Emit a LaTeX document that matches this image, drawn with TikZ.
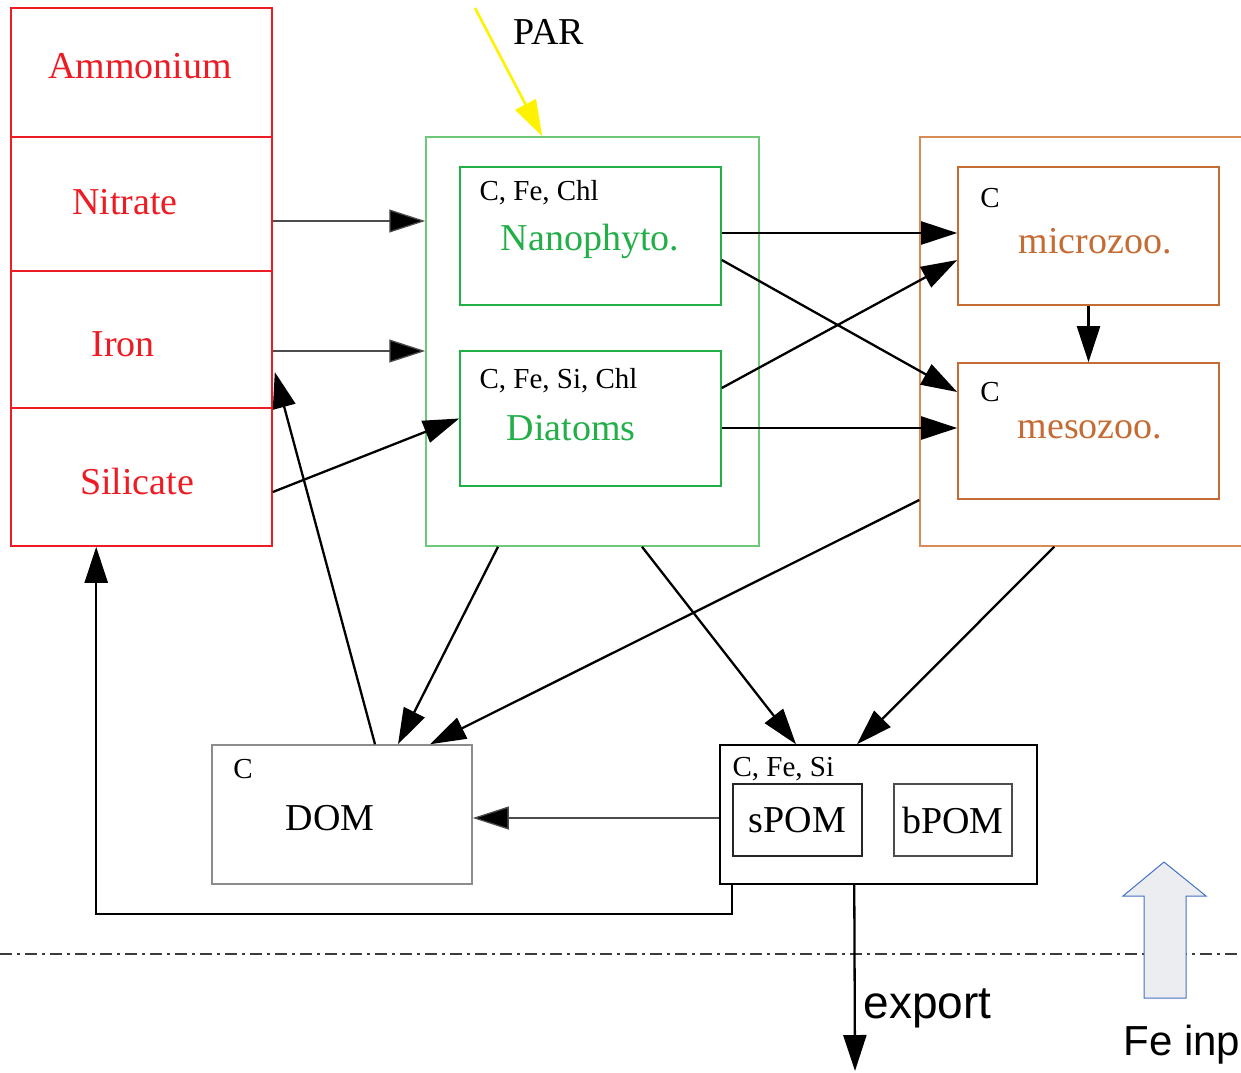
\documentclass[tikz,border=0pt]{standalone}
\usepackage{fontspec}
\setmainfont{Liberation Serif}
\newfontfamily\sansf{Liberation Sans}
\usetikzlibrary{arrows.meta,calc}
\definecolor{cred}{RGB}{237,28,36}
\definecolor{cgreen}{RGB}{34,175,72}
\definecolor{cgreenl}{RGB}{110,200,120}
\definecolor{corange}{RGB}{196,108,52}
\definecolor{corangel}{RGB}{215,140,85}
\definecolor{cblue}{RGB}{68,114,196}
\definecolor{cfill}{RGB}{235,237,240}
\definecolor{cdash}{RGB}{60,60,60}
\tikzset{
  rbox/.style={draw=cred,line width=1.6pt,minimum width=261pt,inner sep=0pt},
  gbox/.style={draw=cgreen,line width=1.6pt,inner sep=0pt},
  obox/.style={draw=corange,line width=1.6pt,inner sep=0pt},
  kbox/.style={draw=black,line width=1.5pt,inner sep=0pt},
  big/.style={font=\fontsize{38}{40}\selectfont},
  small/.style={font=\fontsize{29}{31}\selectfont},
  arr/.style={line width=2.3pt,-{Triangle[length=36pt,width=23pt,fill=black]}},
  thinarr/.style={line width=1.3pt,draw=black!70,-{Triangle[length=36pt,width=23pt,fill=black]}},
}
\begin{document}
\begin{tikzpicture}[x=1pt,y=-1pt]
\clip (0,0) rectangle (1241,1072);
\fill[white] (0,0) rectangle (1241,1072);
% nutrients column
\node[rbox,minimum height=129pt] (amm) at (141.5,72.5) {};
\node[rbox,minimum height=134pt] (nit) at (141.5,204) {};
\node[rbox,minimum height=137pt] (iron) at (141.5,339.5) {};
\node[rbox,minimum height=138pt] (sil) at (141.5,477) {};
\node[big,text=cred] (tamm) at (140,66) {Ammonium};
\node[big,text=cred] (tnit) at (125,202) {Nitrate};
\node[big,text=cred] (tiron) at (123,344) {Iron};
\node[big,text=cred] (tsil) at (137,481) {Silicate};
% phytoplankton
\node[draw=cgreenl,line width=1.5pt,minimum width=333pt,minimum height=409pt] (green) at (592.5,341.5) {};
\node[gbox,minimum width=261pt,minimum height=138pt] (nano) at (590.5,236) {};
\node[gbox,minimum width=261pt,minimum height=135pt] (dia) at (590.5,418.5) {};
\node[small,anchor=west] (tnanoc) at (476,193) {C, Fe, Chl};
\node[big,text=cgreen] (tnano) at (590,241) {Nanophyto.};
\node[small,anchor=west] (tdiac) at (476,381) {C, Fe, Si, Chl};
\node[big,text=cgreen] (tdia) at (571,428) {Diatoms};
% PAR
\node[big] (par) at (549,32) {PAR};
\coordinate (parS) at (475,8);
\draw[line width=2.6pt,draw=yellow,-{Triangle[length=36pt,width=23pt,fill=yellow]}] (parS) -- ($(green.north west)+(117,0)$);
% zooplankton
\node[draw=corangel,line width=1.5pt,minimum width=330pt,minimum height=409pt,inner sep=0pt] (orange) at (1085,341.5) {};
\node[obox,minimum width=261pt,minimum height=138pt] (micro) at (1088.5,236) {};
\node[obox,minimum width=261pt,minimum height=136pt] (meso) at (1088.5,431) {};
\node[small] (tmicroc) at (990,198) {C};
\node[big,text=corange] (tmicro) at (1095,241) {microzoo.};
\node[small] (tmesoc) at (990,392) {C};
\node[big,text=corange] (tmeso) at (1090,430) {mesozoo.};
% DOM / POM
\node[draw=black!45,line width=1.5pt,minimum width=260pt,minimum height=139pt,inner sep=0pt] (dom) at (342,814.5) {};
\node[small] (tdomc) at (243,769) {C};
\node[big] (tdom) at (330,818) {DOM};
\node[kbox,minimum width=317pt,minimum height=139pt] (pom) at (878.5,814.5) {};
\node[small,anchor=west] (tpomc) at (729,769) {C, Fe, Si};
\node[kbox,draw=black!85,minimum width=129pt,minimum height=72pt,big] (spom) at (797.5,820) {sPOM};
\node[kbox,draw=black!70,minimum width=118pt,minimum height=72pt,big] (bpom) at (953,820) {bPOM};
% flows
\draw[thinarr] ($(nit.east)+(0,17)$) coordinate (a1) -- (a1 -| green.west);
\draw[thinarr] ($(iron.east)+(0,11.5)$) coordinate (a2) -- (a2 -| green.west);
\draw[arr] ($(sil.east)+(0,15)$) -- (dia.west);
\draw[arr] ($(nano.east)+(0,-3)$) coordinate (a4) -- (a4 -| micro.west);
\draw[arr] ($(nano.east)+(0,24)$) -- ($(meso.west)+(0,-39)$);
\draw[arr] ($(dia.east)+(0,-30.5)$) -- ($(micro.west)+(0,24)$);
\draw[arr] ($(dia.east)+(0,9.5)$) coordinate (a7) -- (a7 -| meso.west);
\draw[arr] (micro.south) -- (meso.north);
\draw[arr] ($(green.south)+(-94.5,0)$) -- ($(dom.north)+(56,0)$);
\draw[arr] ($(green.south)+(49.5,0)$) -- ($(pom.north)+(-82.5,0)$);
\draw[arr] ($(orange.west)+(0,158.5)$) -- ($(dom.north)+(88,0)$);
\draw[arr] ($(orange.south west)+(135,0)$) -- ($(pom.north)+(-21.5,0)$);
\draw[arr] ($(dom.north)+(33,0)$) -- ($(iron.east)+(2,32.5)$);
\draw[thinarr] ($(pom.west)+(0,3.5)$) coordinate (a14) -- (a14 -| dom.east);
\draw[arr] ($(pom.south west)+(13,0)$) -- ++(0,29) -| ($(sil.south west)+(86,0)$);
% surface line
\draw[cdash,line width=1.6pt,dash pattern=on 12pt off 5pt on 3pt off 5pt] (0,954) -- (1241,954);
% export
\coordinate (exp) at (855,1071);
\draw[arr] ($(pom.south west)+(135,0)$) -- (exp);
\node[font=\sansf\fontsize{46}{48}\selectfont,anchor=base west] (texp) at (860,1018) {export};
% Fe input
\draw[cblue,fill=cfill,line width=1pt] (1144,998) -- (1144,896) -- (1123,896) -- (1164,862) -- (1206,896) -- (1186,896) -- (1186,998) -- cycle;
\node[font=\sansf\fontsize{42}{44}\selectfont,anchor=base west] (tfe) at (1120,1055) {Fe inp};
\end{tikzpicture}
\end{document}
